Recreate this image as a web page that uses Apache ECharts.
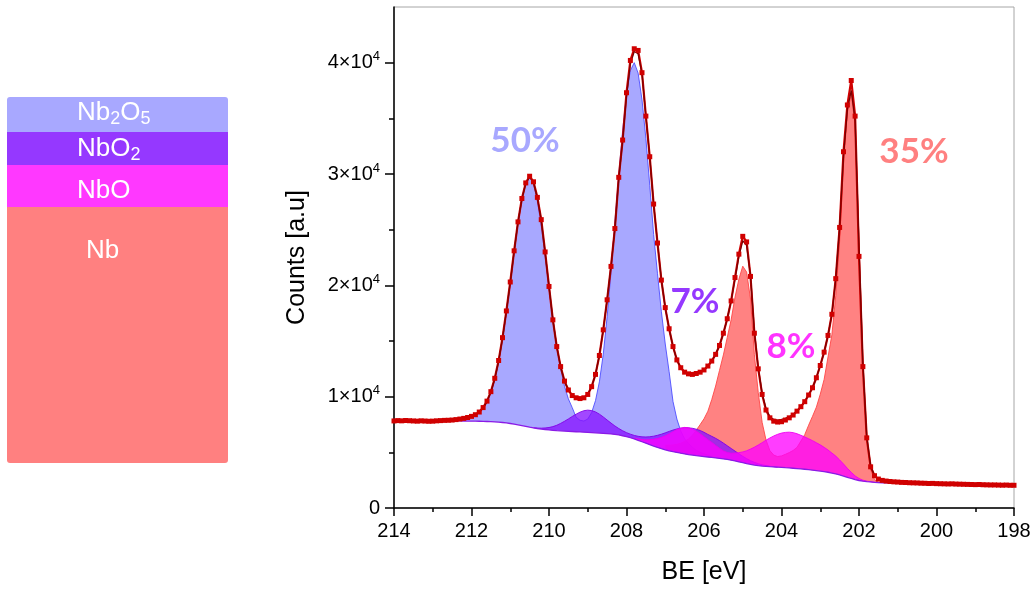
<!DOCTYPE html>
<html>
<head>
<meta charset="utf-8">
<script src="https://cdn.jsdelivr.net/npm/echarts@6/dist/echarts.min.js"></script>
<style>html,body{margin:0;padding:0;background:#fff}#c{width:1033px;height:590px}</style>
</head>
<body>
<div id="c"></div>
<script>
// ---------------- DATA ----------------
const energyStep = 0.1;
const dataStartBE = 214.0;   // measured counts run 214.0 -> 198.0
const counts = [
7820,7850,7830,7860,7840,7820,7800,7830,7810,7790,
7800,7830,7850,7870,7880,7900,7940,7990,8050,8130,
8230,8380,8620,9020,9600,10450,11650,13250,15300,17700,
20300,23100,25700,27800,29200,29800,29300,27900,25900,23000,
19900,16900,14500,12700,11400,10600,10100,9900,9830,9900,
10200,10900,12000,13700,16000,18700,21700,25100,29700,33050,
37300,40200,41250,41100,39100,35200,31550,27300,23800,20470,
18000,16100,14500,13300,12600,12200,12050,12000,12080,12200,
12400,12750,13200,13800,14600,15700,17000,18600,20700,22800,
24400,23900,20800,15700,12500,10200,8800,8100,7800,7720,
7750,7900,8100,8350,8700,9100,9550,10150,10800,11700,
12800,14000,15500,17400,20600,25200,32000,36200,38400,35200,
22600,12700,6300,3700,2900,2600,2480,2420,2380,2350,
2330,2300,2290,2270,2260,2250,2230,2220,2200,2210,
2190,2180,2170,2160,2170,2150,2140,2130,2120,2110,
2100,2110,2090,2080,2070,2070,2060,2050,2060,2040,
2040
];
const fitStartBE = 212.4;    // fit envelope and background run 212.4 -> 201.0
const envelope = [
7960,8050,8110,8160,8240,8370,8610,9000,9580,10420,
11600,13200,15250,17650,20250,23050,25650,27750,29150,29750,
29250,27850,25850,22950,19900,16900,14500,12700,11400,10600,
10100,9880,9820,9900,10200,10900,12000,13700,16000,18700,
21700,25100,29600,33000,37000,39900,41000,40800,39000,35200,
31500,27300,23800,20500,18000,16100,14500,13300,12600,12200,
12050,12000,12080,12200,12400,12750,13200,13800,14600,15700,
17000,18600,20600,22600,24000,23600,20900,15900,12600,10300,
8900,8200,7950,7900,7950,8050,8200,8400,8700,9100,
9550,10150,10800,11700,12800,14000,15500,17400,20600,25200,
31600,35800,37500,34800,23500,13000,6400,3800,2900,2600,
2470,2400,2360,2330,2300
];
const background = [
7820,7820,7815,7810,7800,7795,7790,7780,7770,7755,
7735,7710,7680,7640,7590,7530,7470,7400,7330,7260,
7200,7140,7090,7050,7010,6980,6950,6930,6910,6890,
6870,6850,6830,6810,6790,6770,6750,6730,6710,6680,
6650,6610,6560,6490,6410,6310,6200,6080,5950,5820,
5690,5560,5440,5330,5230,5140,5060,4990,4920,4860,
4800,4750,4700,4660,4620,4580,4540,4500,4460,4410,
4360,4300,4230,4150,4070,3990,3920,3860,3810,3770,
3740,3710,3690,3670,3650,3620,3600,3570,3540,3510,
3480,3440,3400,3360,3320,3270,3210,3140,3060,2970,
2870,2760,2650,2550,2470,2410,2370,2340,2310,2290,
2270,2260,2250,2240,2230
];
// component heights above the background
const nb2o5Start = 212.4;
const nb2o5 = [
150,250,300,345,435,570,820,1200,1770,2620,
3800,5440,7470,9900,12630,15470,18180,20400,21900,22450,
21920,20450,18250,15570,12730,10030,7620,5620,4020,2910,
2140,1300,1050,1000,1200,1800,2900,4600,7100,10500,
14500,19080,23350,27420,30740,32990,33800,32980,30720,27380,
23300,19010,15600,12300,9500,7100,4500,3000,2000,1350,
1000,700,480,340,250,170,100
];
const nbo2Start = 210.4;
const nbo2 = [
0,40,80,140,220,330,480,670,880,1110,
1350,1580,1780,1930,2000,1980,1880,1700,1470,1220,
980,760,580,450,360,320,320,360,440,560,
710,890,1090,1300,1520,1740,1940,2110,2250,2350,
2400,2410,2380,2300,2180,2030,1900,1760,1600,1420,
1230,1050,880,720,570,440,330,240,170,110,
70,40,20,0
];
const nboStart = 207.8;
const nbo = [
80,130,200,300,450,620,800,1020,1250,1520,
1800,2050,2250,2380,2400,2330,2200,2000,1780,1560,
1350,1120,900,720,620,620,700,820,970,1150,
1370,1600,1850,2100,2350,2580,2780,2950,3080,3170,
3210,3200,3130,3020,2900,2780,2650,2500,2350,2180,
2000,1800,1600,1350,1080,800,550,330,180,90,
40,15,0
];
const nbStart = 207.0;
const nb = [
420,500,600,730,900,1120,1400,1780,2290,2830,
3390,4115,5200,6455,7900,9340,10960,12600,14700,16400,
17650,17200,14850,9900,6550,3920,2370,1440,1060,950,
1030,1200,1380,1600,1900,2500,3110,4000,4830,5700,
6900,8280,10350,12420,16000,21000,28000,32780,34500,31800,
21400,10350,3800,1100,250,0
];
const xTickValues = [214,212,210,208,206,204,202,200,198];
const yTickValues = [0,10000,20000,30000,40000];
const yMinorTickValues = [5000,15000,25000,35000];
const yTickLabels = ['0','1\u00d710','2\u00d710','3\u00d710','4\u00d710'];
const yTickExponent = '4';
const percentLabels = ['50%','7%','8%','35%'];

// ---------------- CHART ----------------
const FONT = 'Liberation Sans, Arial, sans-serif';
const be = (start, i) => +(start - i * energyStep).toFixed(1);
function bgAt(E) {
  let i = Math.round((fitStartBE - E) / energyStep);
  i = Math.max(0, Math.min(background.length - 1, i));
  return background[i];
}
function band(name, start, values, fill, stroke) {
  return {
    type: 'custom', name, coordinateSystem: 'cartesian2d', silent: true,
    data: [[start, 0]], encode: { x: 0, y: 1 },
    renderItem: (params, api) => {
      const top = [], bot = [];
      values.forEach((h, i) => {
        const E = be(start, i);
        const b = bgAt(E);
        top.push(api.coord([E, b + h]));
        bot.push(api.coord([E, b]));
      });
      return {
        type: 'group',
        children: [
          { type: 'polygon', shape: { points: top.concat(bot.slice().reverse()) }, style: { fill: fill, stroke: null } },
          { type: 'polyline', shape: { points: top }, style: { fill: null, stroke: stroke, lineWidth: 1 } }
        ]
      };
    }
  };
}

const chart = echarts.init(document.getElementById('c'), null, { renderer: 'canvas' });
const axisLineStyle = { color: '#000', width: 1.5 };
const subRich = {
  n: { fontSize: 26, fill: '#fff', fontFamily: FONT },
  s: { fontSize: 18, fill: '#fff', fontFamily: FONT, padding: [13, 0, 0, 0] }
};
const pctStyle = (text, color) => ({ text, fill: color, fontSize: 35, fontWeight: 'bold', fontFamily: 'Lato, sans-serif', align: 'center', verticalAlign: 'middle' });
const option = {
  animation: false,
  backgroundColor: '#fff',
  grid: { left: 394, right: 19, top: 7, bottom: 82, show: true, borderColor: '#a6a6a6', borderWidth: 1, outerBoundsMode: 'none' },
  xAxis: {
    type: 'value', min: 198, max: 214, interval: 2, inverse: true,
    axisLine: { lineStyle: axisLineStyle },
    axisTick: { length: 8, lineStyle: axisLineStyle },
    minorTick: { show: true, splitNumber: 2, length: 4, lineStyle: axisLineStyle },
    splitLine: { show: false }, minorSplitLine: { show: false },
    axisLabel: { fontSize: 20, color: '#000', fontFamily: FONT, margin: 13,
      formatter: v => xTickValues.indexOf(v) >= 0 ? String(v) : '' },
    name: 'BE [eV]', nameLocation: 'middle', nameGap: 52,
    nameTextStyle: { fontSize: 25, color: '#000', fontFamily: FONT }
  },
  yAxis: [
    {
      type: 'value', min: 0, max: 45000, position: 'left',
      axisLine: { show: true, lineStyle: axisLineStyle },
      axisTick: { show: true, length: 9, lineStyle: axisLineStyle, customValues: yTickValues },
      splitLine: { show: false },
      axisLabel: {
        customValues: yTickValues, margin: 14, color: '#000', fontFamily: FONT, fontSize: 20,
        formatter: v => {
          const i = yTickValues.indexOf(v);
          if (i < 0) return '';
          if (i === 0) return '{m|' + yTickLabels[0] + '}';
          return '{m|' + yTickLabels[i] + '}{s|' + yTickExponent + '}';
        },
        rich: {
          m: { fontSize: 20, color: '#000', fontFamily: FONT },
          s: { fontSize: 13, color: '#000', fontFamily: FONT, padding: [0, 0, 12, 0] }
        }
      },
      name: 'Counts [a.u]', nameLocation: 'middle', nameGap: 84,
      nameTextStyle: { fontSize: 25, color: '#000', fontFamily: FONT }
    },
    {
      type: 'value', min: 0, max: 45000, position: 'left',
      axisLine: { show: false },
      axisTick: { show: true, length: 5, lineStyle: axisLineStyle, customValues: yMinorTickValues },
      axisLabel: { show: false }, splitLine: { show: false }
    }
  ],
  series: [
    band('Nb2O5', nb2o5Start, nb2o5, 'rgba(0,0,255,0.34)', 'rgba(70,70,255,0.85)'),
    band('Nb', nbStart, nb, 'rgba(255,0,0,0.49)', 'rgba(255,70,70,0.9)'),
    band('NbO2', nbo2Start, nbo2, 'rgba(136,20,255,0.78)', 'rgba(130,0,230,0.9)'),
    band('NbO', nboStart, nbo, 'rgba(255,0,255,0.76)', 'rgba(240,0,240,0.9)'),
    {
      type: 'line', name: 'background', showSymbol: false, silent: true,
      data: background.map((v, i) => [be(fitStartBE, i), v]),
      lineStyle: { color: '#8a1ae6', width: 1.3 }
    },
    {
      type: 'line', name: 'data', silent: true,
      data: counts.map((v, i) => [be(dataStartBE, i), v]),
      showSymbol: true, showAllSymbol: true,
      symbol: 'rect', symbolSize: 5,
      lineStyle: { color: '#d00000', width: 2.2 },
      itemStyle: { color: '#d00000', opacity: 1 }
    },
    {
      type: 'line', name: 'fit', showSymbol: false, silent: true,
      data: envelope.map((v, i) => [be(fitStartBE, i), v]),
      lineStyle: { color: '#7a0000', width: 1.3 }
    }
  ],
  graphic: [
    { type: 'rect', shape: { x: 7, y: 97, width: 221, height: 35, r: [3, 3, 0, 0] }, style: { fill: '#a8a8ff' } },
    { type: 'rect', shape: { x: 7, y: 132, width: 221, height: 33 }, style: { fill: '#9538ff' } },
    { type: 'rect', shape: { x: 7, y: 165, width: 221, height: 42 }, style: { fill: '#ff38ff' } },
    { type: 'rect', shape: { x: 7, y: 207, width: 221, height: 256, r: [0, 0, 3, 3] }, style: { fill: '#ff8080' } },
    { type: 'text', x: 77, y: 113, style: { text: '{n|Nb}{s|2}{n|O}{s|5}', rich: subRich, verticalAlign: 'middle', align: 'left' } },
    { type: 'text', x: 77, y: 149, style: { text: '{n|NbO}{s|2}', rich: subRich, verticalAlign: 'middle', align: 'left' } },
    { type: 'text', x: 77, y: 191, style: { text: 'NbO', fill: '#fff', fontSize: 26, fontFamily: FONT, verticalAlign: 'middle', align: 'left' } },
    { type: 'text', x: 86, y: 251, style: { text: 'Nb', fill: '#fff', fontSize: 26, fontFamily: FONT, verticalAlign: 'middle', align: 'left' } },
    { type: 'text', x: 525, y: 141, style: pctStyle(percentLabels[0], '#a8a8ff') },
    { type: 'text', x: 695, y: 302, style: pctStyle(percentLabels[1], '#9538ff') },
    { type: 'text', x: 791, y: 347, style: pctStyle(percentLabels[2], '#ff33ff') },
    { type: 'text', x: 914, y: 152, style: pctStyle(percentLabels[3], '#ff8080') }
  ]
};
chart.setOption(option);
</script>
</body>
</html>
